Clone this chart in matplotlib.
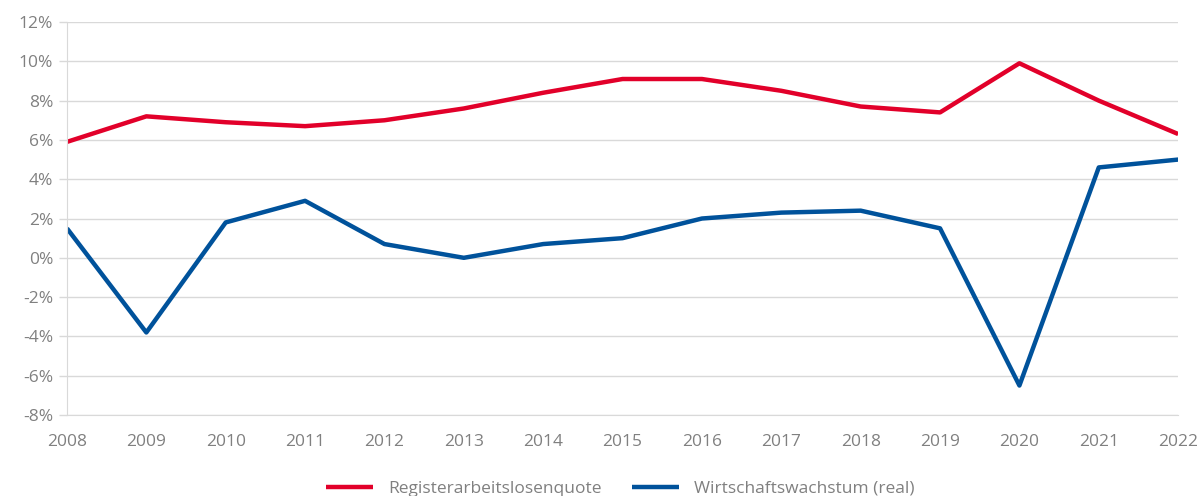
import matplotlib.pyplot as plt
from matplotlib.ticker import FuncFormatter

years = list(range(2008, 2023))
arbeitslosenquote = [5.9, 7.2, 6.9, 6.7, 7.0, 7.6, 8.4, 9.1, 9.1, 8.5, 7.7, 7.4, 9.9, 8.0, 6.3]
wachstum = [1.5, -3.8, 1.8, 2.9, 0.7, 0.0, 0.7, 1.0, 2.0, 2.3, 2.4, 1.5, -6.5, 4.6, 5.0]
y_ticks = list(range(-8, 13, 2))

plt.rcParams['font.family'] = ['Open Sans', 'DejaVu Sans']
grey = '#808080'
grid_col = '#d9d9d9'

fig = plt.figure(figsize=(12, 4.96), dpi=100)
ax = fig.add_axes([0.0558, 0.1633, 0.926, 0.7923])

ax.plot(years, arbeitslosenquote, color='#e2002a', lw=3.2, solid_capstyle='butt',
        label='Registerarbeitslosenquote')
ax.plot(years, wachstum, color='#00529b', lw=3.2, solid_capstyle='butt',
        label='Wirtschaftswachstum (real)')

ax.set_xlim(years[0], years[-1])
ax.set_ylim(-8, 12)
ax.set_xticks(years)
ax.set_yticks(y_ticks)
ax.yaxis.set_major_formatter(FuncFormatter(lambda v, p: f'{v:.0f}%'))
ax.grid(axis='y', color=grid_col, lw=1)
ax.set_axisbelow(True)

for s in ['top', 'right']:
    ax.spines[s].set_visible(False)
ax.spines['left'].set_color(grid_col)
ax.spines['bottom'].set_color(grid_col)
ax.tick_params(axis='y', colors=grid_col, labelcolor=grey, length=6, width=1, labelsize=12.5, pad=4)
ax.tick_params(axis='x', length=0, labelcolor=grey, labelsize=12.5, pad=14)

fig.legend(loc='lower center', bbox_to_anchor=(0.517, -0.033), ncol=2, frameon=False,
           fontsize=12.5, labelcolor=grey, handlelength=2.7, columnspacing=1.7, handletextpad=0.9)

fig.savefig('out.png', dpi=100)
